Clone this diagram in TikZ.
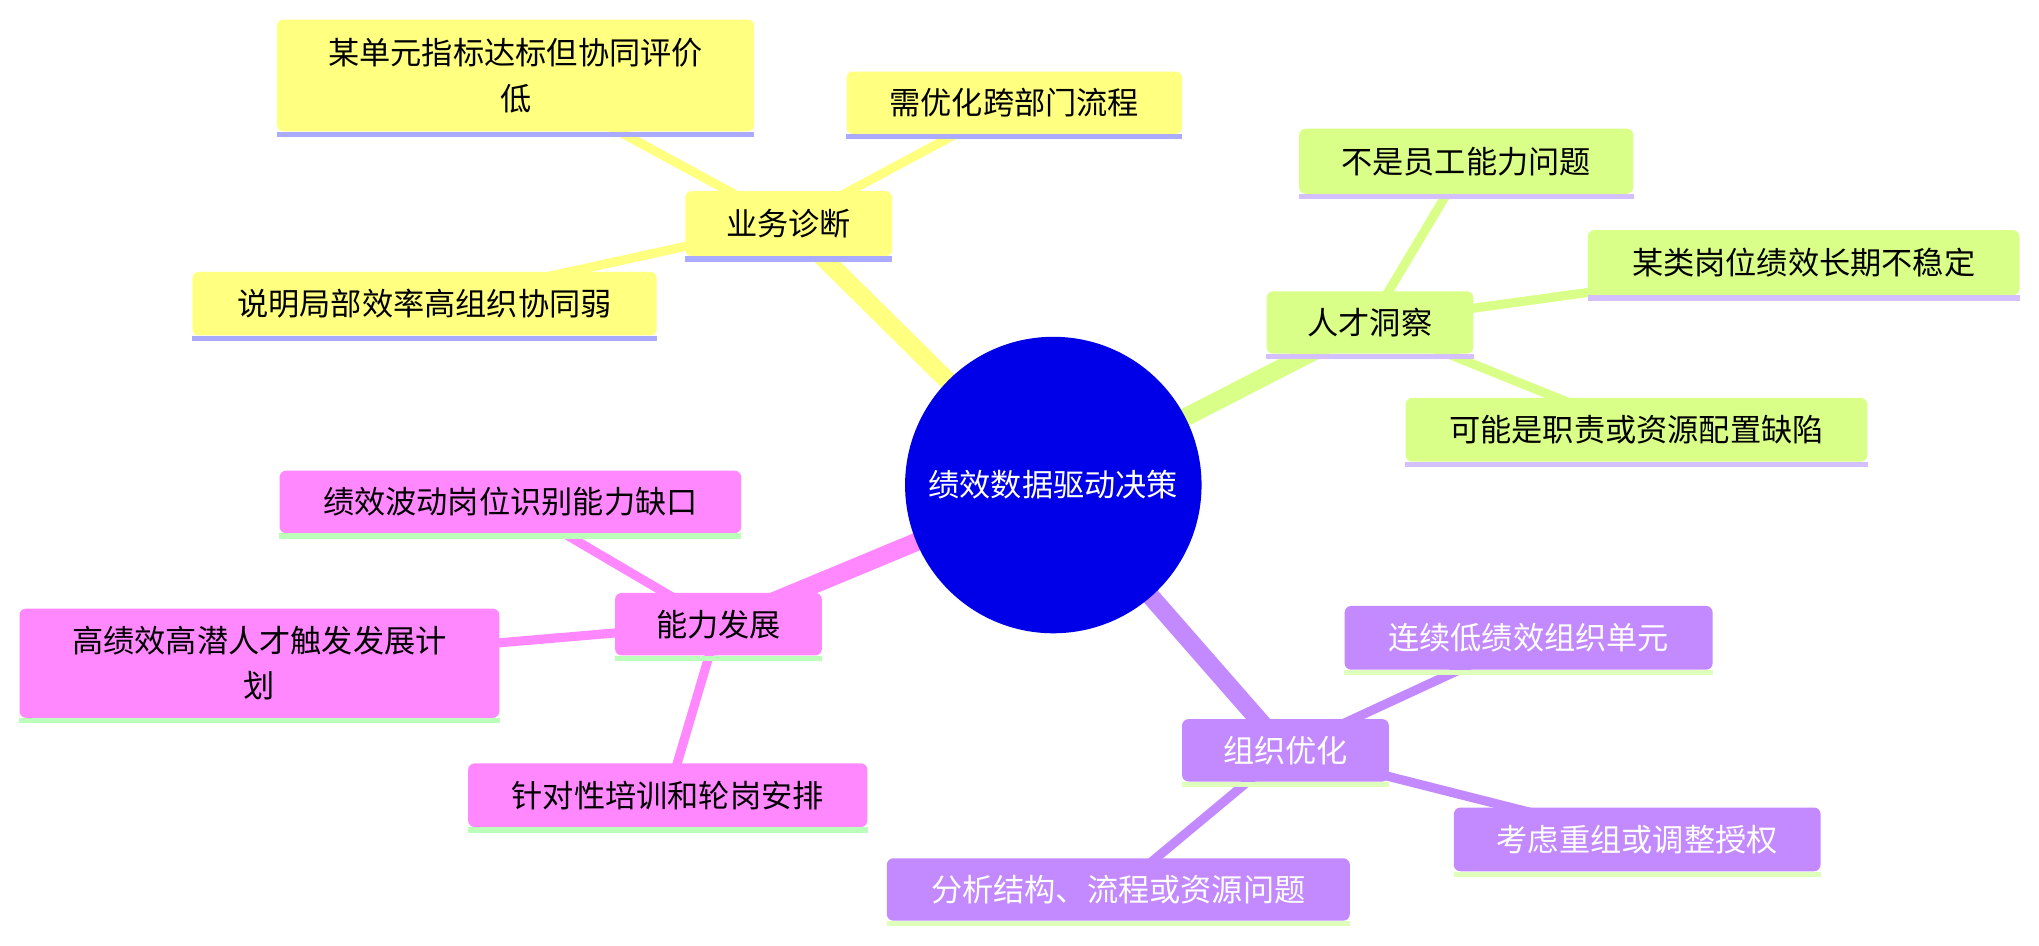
\documentclass[tikz,border=0pt]{standalone}
\usepackage{fontspec}
\newfontfamily\cjk{Noto Sans CJK SC}
\usetikzlibrary{backgrounds}
\definecolor{yfill}{HTML}{FFFF80}
\definecolor{yul}{HTML}{AAAAFF}
\definecolor{gfill}{HTML}{D9FF88}
\definecolor{gul}{HTML}{D4BFFF}
\definecolor{pfill}{HTML}{FF88FF}
\definecolor{pul}{HTML}{BBFFBB}
\definecolor{ufill}{HTML}{C389FF}
\definecolor{uul}{HTML}{DDFFBB}
\definecolor{cblue}{HTML}{0000E8}
\tikzset{
  box/.style={rectangle, rounded corners=5pt, inner sep=0pt, align=center,
    font=\cjk\fontsize{24}{35}\selectfont},
  ybox/.style={box, fill=yfill, text=black},
  gbox/.style={box, fill=gfill, text=black},
  pbox/.style={box, fill=pfill, text=black},
  ubox/.style={box, fill=ufill, text=white},
  mainline/.style={line width=14pt},
  childline/.style={line width=7pt},
}
\begin{document}
\begin{tikzpicture}[x=1pt,y=-1pt]
\useasboundingbox (0,0) rectangle (1568,727);
% center
\node[circle, fill=cblue, minimum size=228pt, inner sep=0pt, text=white,
  font=\cjk\fontsize{24}{30}\selectfont] (c) at (810,373) {绩效数据驱动决策};
% yellow branch
\node[ybox, minimum width=159pt, minimum height=50pt] (yw) at (606.5,172) {业务诊断};
\node[ybox, minimum width=367pt, minimum height=86pt] (y1) at (396.5,58) {某单元指标达标但协同评价\\低};
\node[ybox, minimum width=258pt, minimum height=48pt] (y2) at (780,79) {需优化跨部门流程};
\node[ybox, minimum width=357pt, minimum height=49pt] (y3) at (326.5,233.5) {说明局部效率高组织协同弱};
% green branch
\node[gbox, minimum width=159pt, minimum height=48pt] (gw) at (1053.5,248) {人才洞察};
\node[gbox, minimum width=257pt, minimum height=50pt] (g1) at (1127.5,124) {不是员工能力问题};
\node[gbox, minimum width=332pt, minimum height=50pt] (g2) at (1387,202) {某类岗位绩效长期不稳定};
\node[gbox, minimum width=355pt, minimum height=49pt] (g3) at (1258.5,330.5) {可能是职责或资源配置缺陷};
% pink branch
\node[pbox, minimum width=159pt, minimum height=48pt] (pw) at (552.5,480) {能力发展};
\node[pbox, minimum width=355pt, minimum height=48pt] (p1) at (392.5,386) {绩效波动岗位识别能力缺口};
\node[pbox, minimum width=369pt, minimum height=84pt] (p2) at (199.5,510) {高绩效高潜人才触发发展计\\划};
\node[pbox, minimum width=307pt, minimum height=49pt] (p3) at (513.5,611.5) {针对性培训和轮岗安排};
% purple branch
\node[ubox, minimum width=159pt, minimum height=48pt] (uw) at (988.5,577) {组织优化};
\node[ubox, minimum width=283pt, minimum height=49pt] (u1) at (1175.5,490.5) {连续低绩效组织单元};
\node[ubox, minimum width=282pt, minimum height=49pt] (u2) at (1259,645.5) {考虑重组或调整授权};
\node[ubox, minimum width=356pt, minimum height=48pt] (u3) at (860,684) {分析结构、流程或资源问题};
% underlines
\foreach \n/\col in {yw/yul,y1/yul,y2/yul,y3/yul,gw/gul,g1/gul,g2/gul,g3/gul,
                     pw/pul,p1/pul,p2/pul,p3/pul,uw/uul,u1/uul,u2/uul,u3/uul}
  \fill[\col] (\n.south west) rectangle ([yshift=-4pt]\n.south east);
% connectors
\begin{pgfonlayer}{background}
\draw[mainline, yfill] (c.center) -- (yw.center);
\draw[childline, yfill] (yw.center) -- (y1.center);
\draw[childline, yfill] (yw.center) -- (y2.center);
\draw[childline, yfill] (yw.center) -- (y3.center);
\draw[mainline, gfill] (c.center) -- (gw.center);
\draw[childline, gfill] (gw.center) -- (g1.center);
\draw[childline, gfill] (gw.center) -- (g2.center);
\draw[childline, gfill] (gw.center) -- (g3.center);
\draw[mainline, pfill] (c.center) -- (pw.center);
\draw[childline, pfill] (pw.center) -- (p1.center);
\draw[childline, pfill] (pw.center) -- (p2.center);
\draw[childline, pfill] (pw.center) -- (p3.center);
\draw[mainline, ufill] (c.center) -- (uw.center);
\draw[childline, ufill] (uw.center) -- (u1.center);
\draw[childline, ufill] (uw.center) -- (u2.center);
\draw[childline, ufill] (uw.center) -- (u3.center);
\end{pgfonlayer}
\end{tikzpicture}
\end{document}
